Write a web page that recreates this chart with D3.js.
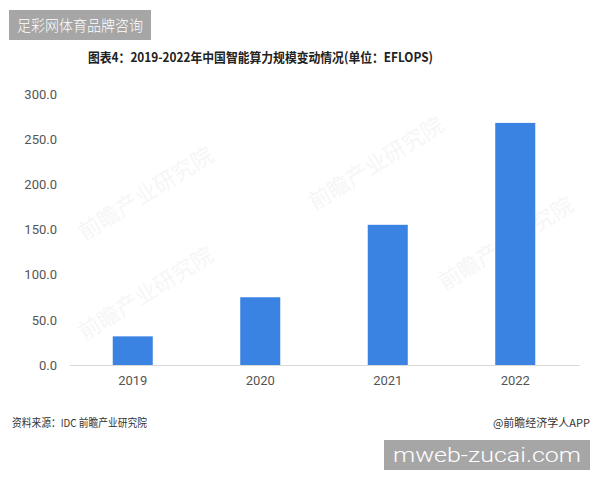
<!DOCTYPE html>
<html>
<head>
<meta charset="utf-8">
<script src="https://cdn.jsdelivr.net/npm/d3@7"></script>
<style>
  body { margin: 0; background: #fff; }
  svg { display: block; font-family: "Noto Sans CJK SC", "Noto Sans", sans-serif; }
</style>
</head>
<body>
<svg id="chart" width="600" height="480"></svg>
<script>
// chart data
const years = ["2019", "2020", "2021", "2022"];
const values = [31.7, 75.0, 155.2, 268.0];
const yTicks = [0, 50, 100, 150, 200, 250, 300];

const svg = d3.select("#chart");
const W = 600, H = 480;
svg.append("rect").attr("width", W).attr("height", H).attr("fill", "#fff");

// faint watermarks
const marks = [[150, 200], [380, 170], [150, 300], [510, 250]];
marks.forEach(m => {
  svg.append("text")
    .attr("transform", `translate(${m[0]},${m[1]}) rotate(-32)`)
    .attr("text-anchor", "middle")
    .attr("font-size", 22)
    .attr("fill", "#f6f6f6")
    .text("前瞻产业研究院");
});

// top-left badge
svg.append("rect").attr("x", 9).attr("y", 10).attr("width", 142).attr("height", 30).attr("fill", "#a6a6a6");
svg.append("text").attr("x", 17).attr("y", 31).attr("fill", "#fff").attr("font-size", 15)
  .attr("font-weight", 300)
  .attr("textLength", 126).attr("lengthAdjust", "spacingAndGlyphs")
  .text("足彩网体育品牌咨询");

// title
svg.append("text").attr("x", 88).attr("y", 62).attr("font-size", 13).attr("font-weight", "bold")
  .attr("fill", "#222")
  .attr("textLength", 345).attr("lengthAdjust", "spacingAndGlyphs")
  .text("图表4：2019-2022年中国智能算力规模变动情况(单位：EFLOPS)");

const x = d3.scaleBand().domain(years).range([69, 579]).paddingInner(0.686).paddingOuter(0.343);
const y = d3.scaleLinear().domain([0, 300]).range([365, 94]);

// y axis labels
const yAxis = svg.append("g").attr("transform", "translate(57,0)")
  .call(d3.axisLeft(y).tickValues(yTicks).tickFormat(d3.format(".1f")).tickSize(0));
yAxis.select(".domain").remove();
yAxis.selectAll("text").attr("font-size", 13).attr("fill", "#555")
  .attr("font-family", "Roboto, 'Noto Sans', sans-serif").attr("x", 0);

// bars
svg.append("g").selectAll("rect").data(values).join("rect")
  .attr("x", (d, i) => x(years[i]))
  .attr("y", d => y(d))
  .attr("width", x.bandwidth())
  .attr("height", d => y(0) - y(d))
  .attr("fill", "#3a83e2");

// x axis
const xAxis = svg.append("g").attr("transform", `translate(0,${y(0)})`)
  .call(d3.axisBottom(x).tickSize(0).tickPadding(11));
xAxis.select(".domain").attr("stroke", "#d9d9d9");
xAxis.selectAll("text").attr("font-size", 13).attr("fill", "#555")
  .attr("font-family", "Roboto, 'Noto Sans', sans-serif");

// footer
svg.append("text").attr("x", 12).attr("y", 427).attr("font-size", 11).attr("fill", "#333")
  .attr("textLength", 135).attr("lengthAdjust", "spacingAndGlyphs")
  .text("资料来源：IDC 前瞻产业研究院");
svg.append("text").attr("x", 590).attr("y", 427).attr("font-size", 11).attr("fill", "#333")
  .attr("text-anchor", "end").text("@前瞻经济学人APP");

// bottom-right badge
svg.append("rect").attr("x", 384).attr("y", 440).attr("width", 206).attr("height", 30).attr("fill", "#a6a6a6");
svg.append("text").attr("x", 393).attr("y", 462).attr("fill", "#fff").attr("font-size", 20)
  .attr("font-family", "Roboto, 'Liberation Sans', sans-serif").attr("font-weight", 300)
  .attr("textLength", 188).attr("lengthAdjust", "spacingAndGlyphs")
  .text("mweb-zucai.com");
</script>
</body>
</html>
